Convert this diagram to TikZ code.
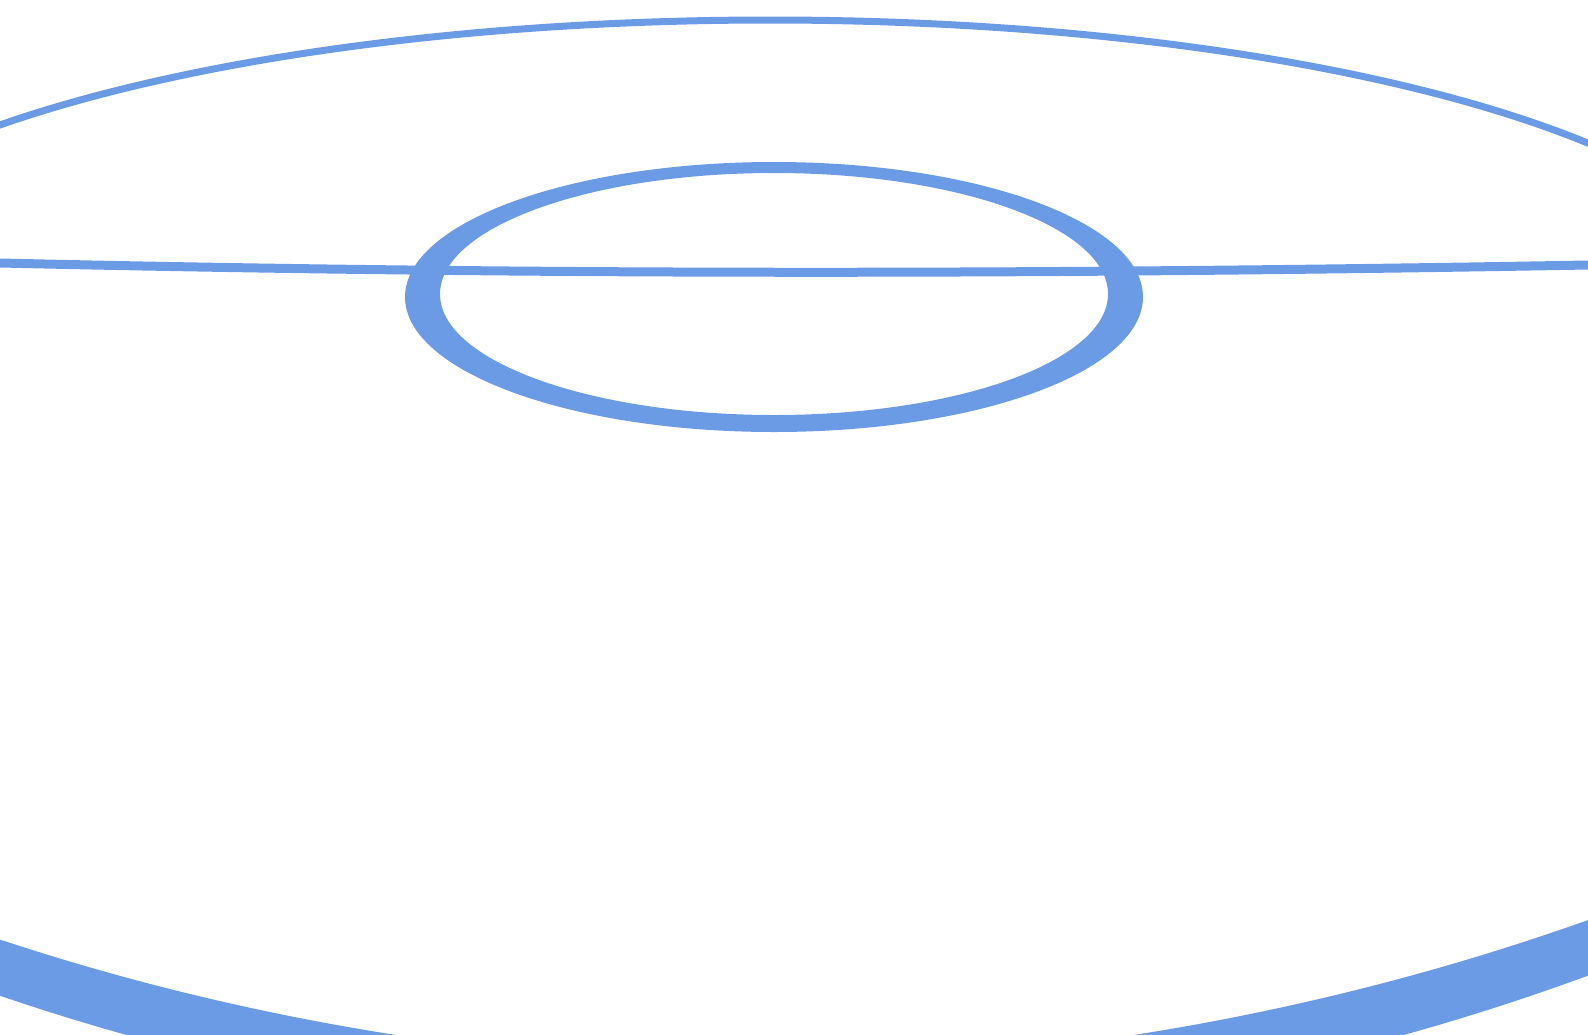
\documentclass[tikz,border=0pt]{standalone}
\usepackage{xcolor}
\usepackage{tikz}

\definecolor{ringblue}{RGB}{108,155,230}

\begin{document}
\begin{tikzpicture}[
  x=1pt, y=-1pt,
  band/.style={fill=ringblue, even odd rule},
  rim/.style={draw=ringblue, line width=9pt},
  thinrim/.style={draw=ringblue, line width=7pt}]

%% Geometría en píxeles de la referencia (1588 x 1034), eje y hacia abajo.
\useasboundingbox (0,0) rectangle (1588,1034);
\clip (0,0) rectangle (1588,1034);

%% ---- borde exterior: arco fino arriba ----
\draw[thinrim] (-230,310)
  arc[start angle=180, end angle=360, x radius=1000, y radius=290];

% ... y banda gruesa abajo (dos parábolas)
\fill[band] (0,939.6) parabola bend (765,1064) (1588,920.1)
  -- (1588,975.7) parabola bend (765,1124) (0,995.8) -- cycle;

%% ---- anillo interior ----
\fill[band] (774,297) ellipse [x radius=369, y radius=135]
            (774,294) ellipse [x radius=334, y radius=121];

% línea de horizonte, casi recta
\draw[rim] (0,263) .. controls (520,275) and (1030,275) .. (1588,265);
\end{tikzpicture}
\end{document}
